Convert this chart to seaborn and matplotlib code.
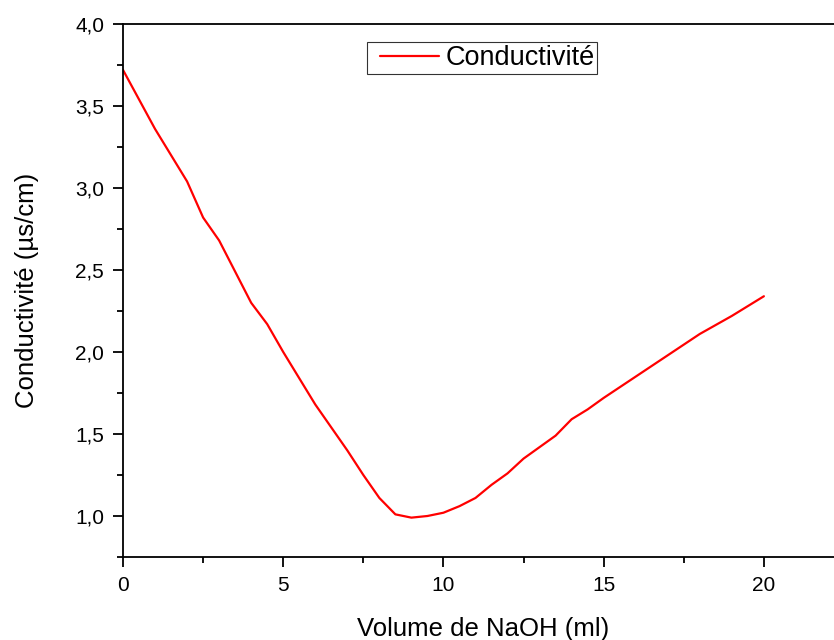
import pandas as pd
import matplotlib
matplotlib.use('Agg')
import matplotlib.pyplot as plt
import seaborn as sns
from matplotlib.ticker import MultipleLocator, FuncFormatter
from matplotlib.legend_handler import HandlerLine2D
from matplotlib.lines import Line2D

# Données
volume_naoh = [0, 1, 2, 2.5, 3, 4, 4.5, 5, 6, 7, 7.5, 8, 8.5, 9, 9.5, 10,
               10.5, 11, 11.5, 12, 12.5, 13, 13.5, 14, 14.5, 15, 16, 17, 18, 19, 20]
conductivite = [3.72, 3.36, 3.04, 2.82, 2.68, 2.30, 2.17, 2.00, 1.68, 1.40, 1.25, 1.11,
                1.01, 0.99, 1.00, 1.02, 1.06, 1.11, 1.19, 1.26, 1.35, 1.42, 1.49, 1.59,
                1.65, 1.72, 1.85, 1.98, 2.11, 2.22, 2.34]

df = pd.DataFrame({'Volume': volume_naoh, 'Conductivité': conductivite})

sns.set_style('white')
plt.rcParams['font.family'] = ['Liberation Sans', 'DejaVu Sans']
plt.rcParams['text.color'] = 'black'
plt.rcParams['axes.labelcolor'] = 'black'

fig = plt.figure(figsize=(8.34, 6.4), dpi=100)
# axe plus large que la figure : le bord droit est coupé comme dans l'original
ax = fig.add_axes([123 / 834, 83 / 640, 721 / 834, 533 / 640])

sns.lineplot(data=df, x='Volume', y='Conductivité', color='#ff0000',
             linewidth=1.6, label='Conductivité', ax=ax)

ax.set_xlim(0, 22.5)
ax.set_ylim(0.75, 4.0)
ax.xaxis.set_major_locator(MultipleLocator(5))
ax.xaxis.set_minor_locator(MultipleLocator(2.5))
ax.yaxis.set_major_locator(MultipleLocator(0.5))
ax.yaxis.set_minor_locator(MultipleLocator(0.25))
ax.yaxis.set_major_formatter(FuncFormatter(lambda v, p: f'{v:.1f}'.replace('.', ',')))
ax.xaxis.set_major_formatter(FuncFormatter(lambda v, p: f'{v:g}'))

for s in ax.spines.values():
    s.set_color('black')
    s.set_linewidth(1.3)

ax.tick_params(which='major', direction='out', length=7.5, width=1.3, colors='black',
               labelsize=15, left=True, bottom=True, pad=6)
ax.tick_params(which='minor', direction='out', length=4, width=1.3, colors='black',
               left=True, bottom=True)

ax.set_xlabel('Volume de NaOH (ml)', fontsize=18.5, labelpad=16)
ax.set_ylabel('Conductivité (µs/cm)', fontsize=18.5, labelpad=26)

handles, labels = ax.get_legend_handles_labels()
leg = ax.legend(handles, labels, loc='center', bbox_to_anchor=(482 / 834, 1 - 58 / 640),
                bbox_transform=fig.transFigure, fontsize=19.5, frameon=True,
                fancybox=False, handlelength=2.55, borderpad=0.1,
                handletextpad=0.25, borderaxespad=0,
                handler_map={Line2D: HandlerLine2D(xpad=0.4)})
leg.get_frame().set_edgecolor('black')
leg.get_frame().set_linewidth(0.8)

fig.savefig('out.png', dpi=100)
